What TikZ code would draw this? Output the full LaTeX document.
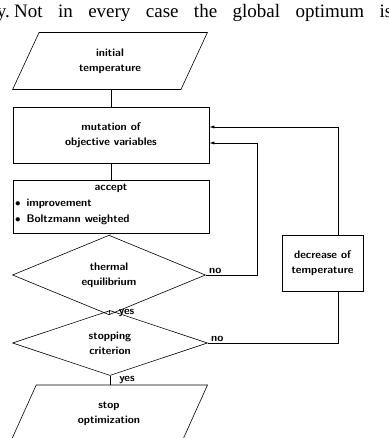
\documentclass[tikz,border=0pt]{standalone}
\usepackage{fontspec}
\newfontfamily\bookfont{Liberation Serif}
\usetikzlibrary{calc,arrows.meta,shapes.geometric}
\newcommand{\boxfont}{\sffamily\bfseries\fontsize{11}{15}\selectfont}
\tikzset{
    flow/.style={black,line width=0.6pt},
    feedback/.style={flow,-{Latex[length=5pt,width=3pt]}},
    box/.style={draw,flow,rectangle,inner sep=0pt,font=\boxfont,align=center},
    io/.style={draw,flow,trapezium,trapezium left angle=65,trapezium right angle=115,
        trapezium stretches=true,inner sep=0pt,font=\boxfont,align=center},
    decision/.style={draw,flow,diamond,inner sep=0pt,font=\boxfont,align=center},
    answer/.style={font=\boxfont,inner sep=1pt}
}

\begin{document}
\begin{tikzpicture}[x=1pt,y=-1pt]
\useasboundingbox (0,0) rectangle (388,438);
\node[anchor=base east,inner sep=0pt] (textend) at (10,18)
    {\bookfont\fontsize{19}{19}\selectfont y.};
\node[anchor=base west,inner sep=0pt] (textline) at (14,18)
    {\bookfont\fontsize{19}{19}\selectfont\makebox[378pt][s]{Not in every case the global optimum is}};

% main chain
\node[io,minimum width=196,minimum height=57] (init) at (110,61) {initial\\temperature};
\node[box,minimum width=196,minimum height=56] (mut) at (111,135) {mutation of\\objective variables};
\node[box,minimum width=196,minimum height=53] (accept) at (111,206.5) {};
\node[answer] (acctitle) at (111,188) {accept};
\node[answer,anchor=west] (item1) at (14,204) {$\bullet$\ \,improvement};
\node[answer,anchor=west] (item2) at (14,220) {$\bullet$\ \,Boltzmann weighted};
\node[decision,minimum width=193,minimum height=50] (therm) at (109,275) {thermal\\equilibrium};
\node[decision,minimum width=195,minimum height=51] (stop) at (110,343) {stopping\\criterion};
\node[io,minimum width=198,minimum height=57] (end) at (109,413.5) {stop\\optimization};

% side branch
\node[box,minimum width=81,minimum height=56] (dec) at (322.5,263) {decrease of\\temperature};

\coordinate (outer) at (338,0);
\coordinate (inner) at (257,0);
\coordinate (mutin1) at ($(mut.east)+(0,-8)$);
\coordinate (mutin2) at ($(mut.east)+(0,8)$);

\draw[flow] (init.south -| mut.north) -- (mut.north);
\draw[flow] (mut) -- (accept);
\draw[flow] (accept) -- (therm);
\draw[flow] (therm) -- node[answer,right=8pt]{yes} (stop);
\draw[flow] (stop) -- node[answer,right=8pt]{yes} (end.north -| stop.south);

\draw[feedback] (therm.east) -- node[answer,anchor=south west,pos=0,xshift=2pt]{no} (therm.east -| inner) |- (mutin2);
\draw[flow] (stop.east) -- node[answer,anchor=south west,pos=0,xshift=2pt]{no} (stop.east -| outer) -- (dec.south -| outer);
\draw[feedback] (dec.north -| outer) |- (mutin1);

\end{tikzpicture}
\end{document}
